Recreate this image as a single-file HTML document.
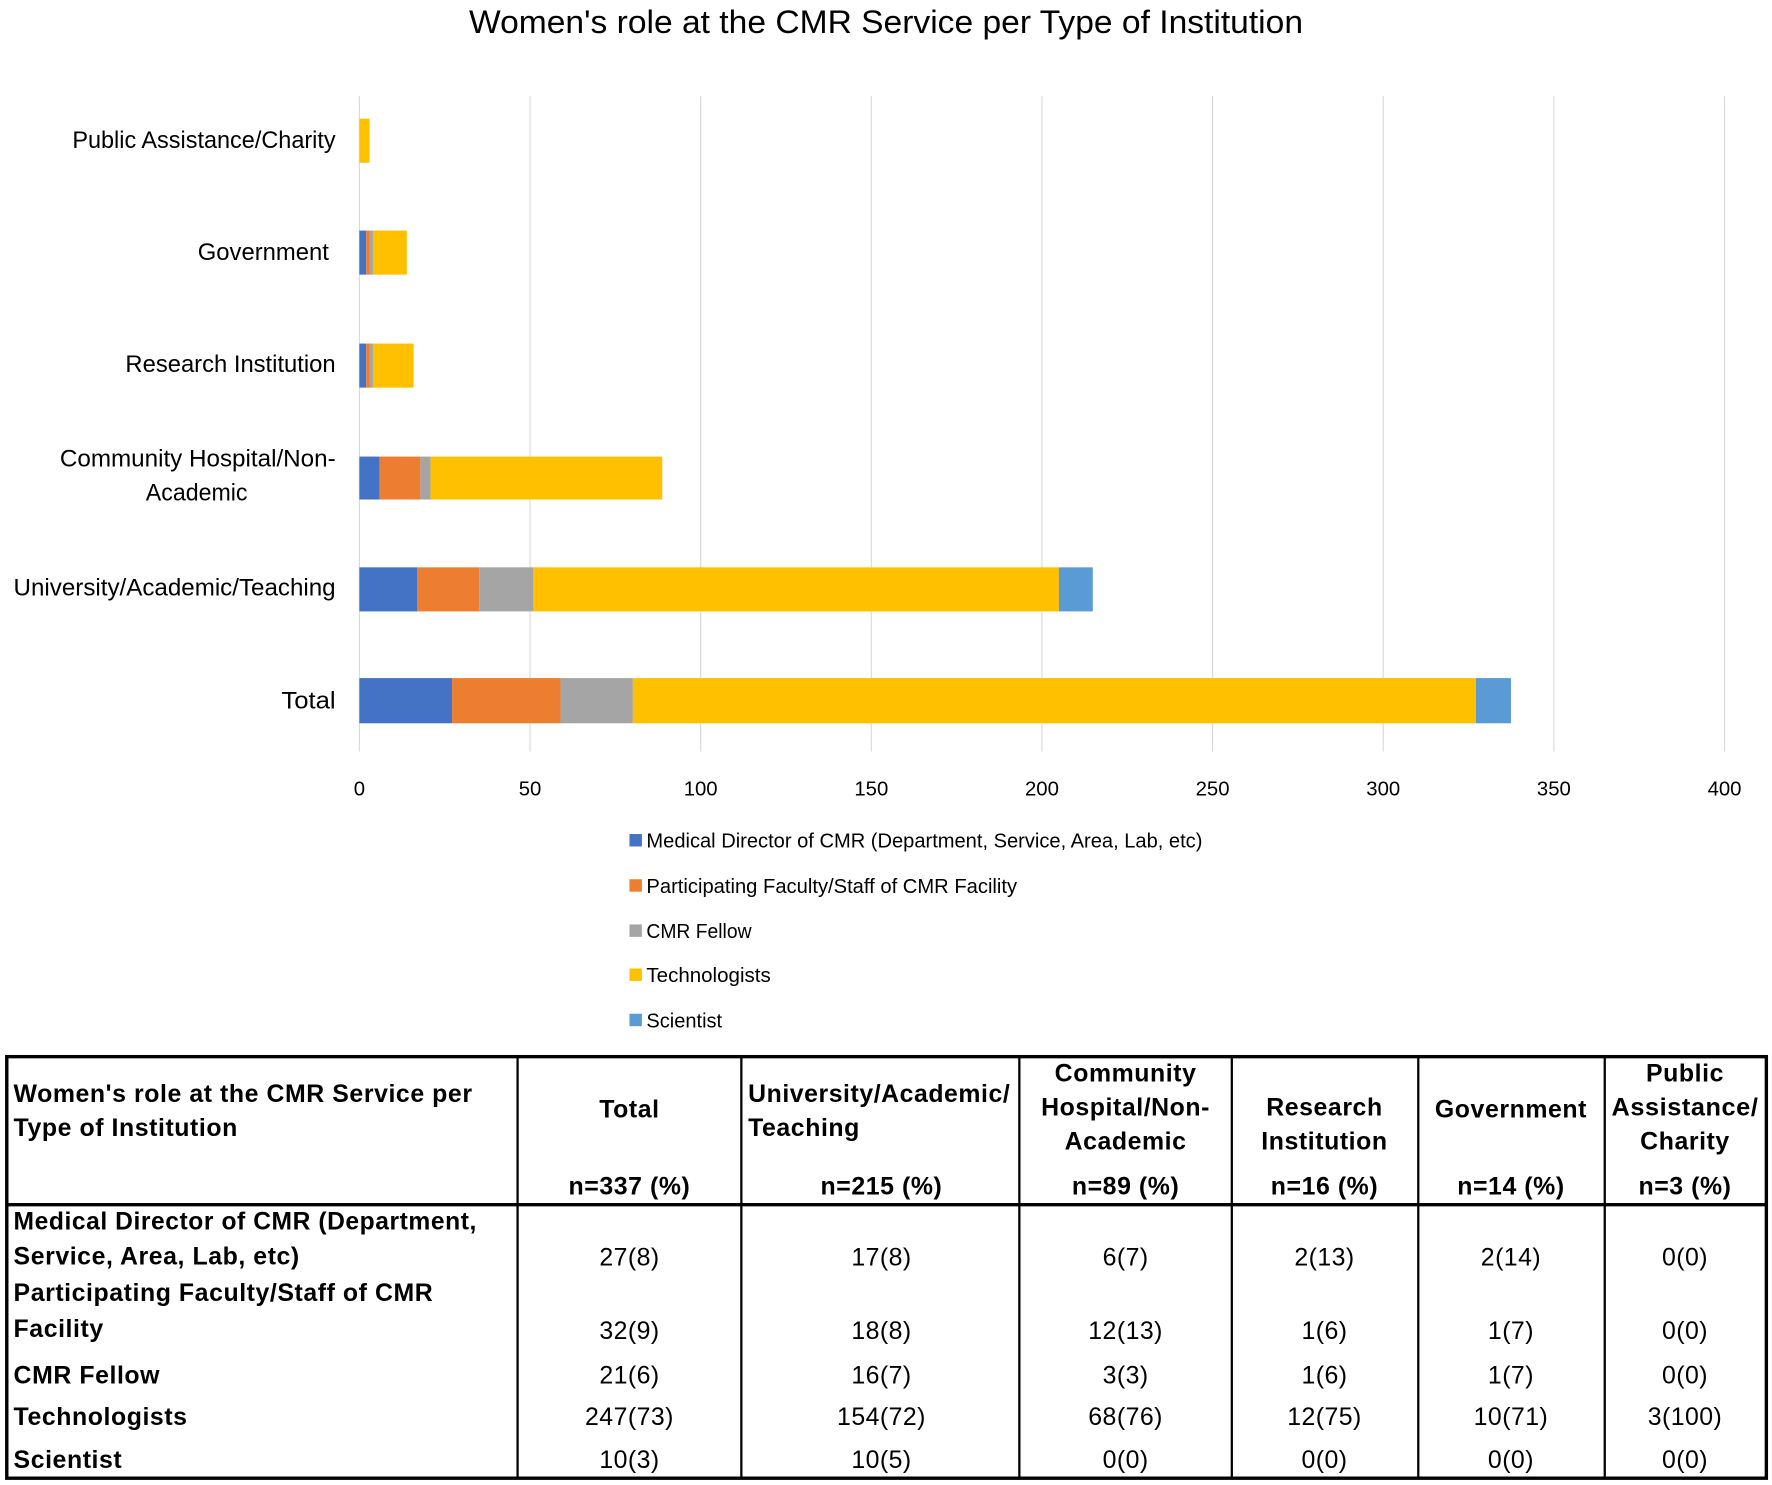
<!DOCTYPE html>
<html><head><meta charset="utf-8"><style>
html,body{margin:0;padding:0;background:#fff;}
svg{display:block;}
.t{font-family:"Liberation Sans",sans-serif;}
.b{font-family:"Liberation Sans",sans-serif;font-weight:bold;font-size:22px;letter-spacing:0.5px;fill:#000;}
.v{font-family:"Liberation Sans",sans-serif;font-size:22px;letter-spacing:0.4px;fill:#000;}
</style></head><body>
<svg width="1772" height="1485" viewBox="0 0 1568 1314" xmlns="http://www.w3.org/2000/svg">
<rect width="1568" height="1314" fill="#fff"/>
<text class="t" x="784" y="29" text-anchor="middle" font-size="29" fill="#000" textLength="738" lengthAdjust="spacingAndGlyphs">Women's role at the CMR Service per Type of Institution</text>
<g stroke="#d9d9d9" stroke-width="1">
<line x1="318" y1="85" x2="318" y2="665"/><line x1="469" y1="85" x2="469" y2="665"/><line x1="620" y1="85" x2="620" y2="665"/><line x1="771" y1="85" x2="771" y2="665"/><line x1="922" y1="85" x2="922" y2="665"/><line x1="1073" y1="85" x2="1073" y2="665"/><line x1="1224" y1="85" x2="1224" y2="665"/><line x1="1375" y1="85" x2="1375" y2="665"/><line x1="1526" y1="85" x2="1526" y2="665"/>
</g>
<g class="t" font-size="18" fill="#000" text-anchor="middle">
<text x="318" y="704">0</text><text x="469" y="704">50</text><text x="620" y="704">100</text><text x="771" y="704">150</text><text x="922" y="704">200</text><text x="1073" y="704">250</text><text x="1224" y="704">300</text><text x="1375" y="704">350</text><text x="1526" y="704">400</text>
</g>
<g class="t" font-size="21" fill="#000" text-anchor="end">
<text x="297" y="131" textLength="233" lengthAdjust="spacingAndGlyphs">Public Assistance/Charity</text>
<text x="291" y="230" textLength="116" lengthAdjust="spacingAndGlyphs">Government</text>
<text x="297" y="329" textLength="186" lengthAdjust="spacingAndGlyphs">Research Institution</text>
<text x="297" y="413" textLength="244" lengthAdjust="spacingAndGlyphs">Community Hospital/Non-</text>
<text x="219" y="443" textLength="90" lengthAdjust="spacingAndGlyphs">Academic</text>
<text x="297" y="527" textLength="285" lengthAdjust="spacingAndGlyphs">University/Academic/Teaching</text>
<text x="297" y="627" textLength="48" lengthAdjust="spacingAndGlyphs">Total</text>
</g>
<g>
<rect x="318" y="105" width="9" height="39" fill="#FFC000"/>
<rect x="318" y="204" width="6" height="39" fill="#4472C4"/><rect x="324" y="204" width="3" height="39" fill="#ED7D31"/><rect x="327" y="204" width="3" height="39" fill="#A5A5A5"/><rect x="330" y="204" width="30" height="39" fill="#FFC000"/>
<rect x="318" y="304" width="6" height="39" fill="#4472C4"/><rect x="324" y="304" width="3" height="39" fill="#ED7D31"/><rect x="327" y="304" width="3" height="39" fill="#A5A5A5"/><rect x="330" y="304" width="36" height="39" fill="#FFC000"/>
<rect x="318" y="404" width="18" height="38" fill="#4472C4"/><rect x="336" y="404" width="36" height="38" fill="#ED7D31"/><rect x="372" y="404" width="9" height="38" fill="#A5A5A5"/><rect x="381" y="404" width="205" height="38" fill="#FFC000"/>
<rect x="318" y="502" width="51" height="39" fill="#4472C4"/><rect x="369" y="502" width="55" height="39" fill="#ED7D31"/><rect x="424" y="502" width="48" height="39" fill="#A5A5A5"/><rect x="472" y="502" width="465" height="39" fill="#FFC000"/><rect x="937" y="502" width="30" height="39" fill="#5B9BD5"/>
<rect x="318" y="600" width="82" height="40" fill="#4472C4"/><rect x="400" y="600" width="96" height="40" fill="#ED7D31"/><rect x="496" y="600" width="64" height="40" fill="#A5A5A5"/><rect x="560" y="600" width="746" height="40" fill="#FFC000"/><rect x="1306" y="600" width="31" height="40" fill="#5B9BD5"/>
</g>
<g class="t" font-size="18" fill="#000">
<rect x="557" y="738" width="11" height="11" fill="#4472C4"/><text x="572" y="750" textLength="492" lengthAdjust="spacingAndGlyphs">Medical Director of CMR (Department, Service, Area, Lab, etc)</text>
<rect x="557" y="778" width="11" height="11" fill="#ED7D31"/><text x="572" y="790" textLength="328" lengthAdjust="spacingAndGlyphs">Participating Faculty/Staff of CMR Facility</text>
<rect x="557" y="818" width="11" height="11" fill="#A5A5A5"/><text x="572" y="830" textLength="93" lengthAdjust="spacingAndGlyphs">CMR Fellow</text>
<rect x="557" y="857" width="11" height="11" fill="#FFC000"/><text x="572" y="869" textLength="110" lengthAdjust="spacingAndGlyphs">Technologists</text>
<rect x="557" y="897" width="11" height="11" fill="#5B9BD5"/><text x="572" y="909" textLength="67" lengthAdjust="spacingAndGlyphs">Scientist</text>
</g>
<g stroke="#000" fill="none">
<rect x="6" y="935" width="1557" height="373" stroke-width="3"/>
<line x1="6" y1="1066" x2="1563" y2="1066" stroke-width="3"/>
<line x1="458" y1="935" x2="458" y2="1308" stroke-width="2"/>
<line x1="656" y1="935" x2="656" y2="1308" stroke-width="2"/>
<line x1="902" y1="935" x2="902" y2="1308" stroke-width="2"/>
<line x1="1090" y1="935" x2="1090" y2="1308" stroke-width="2"/>
<line x1="1255" y1="935" x2="1255" y2="1308" stroke-width="2"/>
<line x1="1420" y1="935" x2="1420" y2="1308" stroke-width="2"/>
</g>
<g class="b">
<text x="12" y="975">Women's role at the CMR Service per</text>
<text x="12" y="1005">Type of Institution</text>
<text x="662" y="975" textLength="232" lengthAdjust="spacingAndGlyphs">University/Academic/</text>
<text x="662" y="1005">Teaching</text>
<g text-anchor="middle">
<text x="557" y="989">Total</text>
<text x="996" y="957">Community</text><text x="996" y="987">Hospital/Non-</text><text x="996" y="1017">Academic</text>
<text x="1172" y="987">Research</text><text x="1172" y="1017">Institution</text>
<text x="1337" y="989">Government</text>
<text x="1491" y="957">Public</text><text x="1491" y="987" textLength="130" lengthAdjust="spacingAndGlyphs">Assistance/</text><text x="1491" y="1017">Charity</text>
<text x="557" y="1057">n=337 (%)</text><text x="780" y="1057">n=215 (%)</text><text x="996" y="1057">n=89 (%)</text><text x="1172" y="1057">n=16 (%)</text><text x="1337" y="1057">n=14 (%)</text><text x="1491" y="1057">n=3 (%)</text>
</g>
<text x="12" y="1088" textLength="410" lengthAdjust="spacingAndGlyphs">Medical Director of CMR (Department,</text>
<text x="12" y="1119">Service, Area, Lab, etc)</text>
<text x="12" y="1151">Participating Faculty/Staff of CMR</text>
<text x="12" y="1183">Facility</text>
<text x="12" y="1224">CMR Fellow</text>
<text x="12" y="1261">Technologists</text>
<text x="12" y="1299">Scientist</text>
</g>
<g class="v" text-anchor="middle">
<text x="557" y="1120">27(8)</text><text x="780" y="1120">17(8)</text><text x="996" y="1120">6(7)</text><text x="1172" y="1120">2(13)</text><text x="1337" y="1120">2(14)</text><text x="1491" y="1120">0(0)</text>
<text x="557" y="1185">32(9)</text><text x="780" y="1185">18(8)</text><text x="996" y="1185">12(13)</text><text x="1172" y="1185">1(6)</text><text x="1337" y="1185">1(7)</text><text x="1491" y="1185">0(0)</text>
<text x="557" y="1224">21(6)</text><text x="780" y="1224">16(7)</text><text x="996" y="1224">3(3)</text><text x="1172" y="1224">1(6)</text><text x="1337" y="1224">1(7)</text><text x="1491" y="1224">0(0)</text>
<text x="557" y="1261">247(73)</text><text x="780" y="1261">154(72)</text><text x="996" y="1261">68(76)</text><text x="1172" y="1261">12(75)</text><text x="1337" y="1261">10(71)</text><text x="1491" y="1261">3(100)</text>
<text x="557" y="1299">10(3)</text><text x="780" y="1299">10(5)</text><text x="996" y="1299">0(0)</text><text x="1172" y="1299">0(0)</text><text x="1337" y="1299">0(0)</text><text x="1491" y="1299">0(0)</text>
</g>
</svg>
</body></html>
